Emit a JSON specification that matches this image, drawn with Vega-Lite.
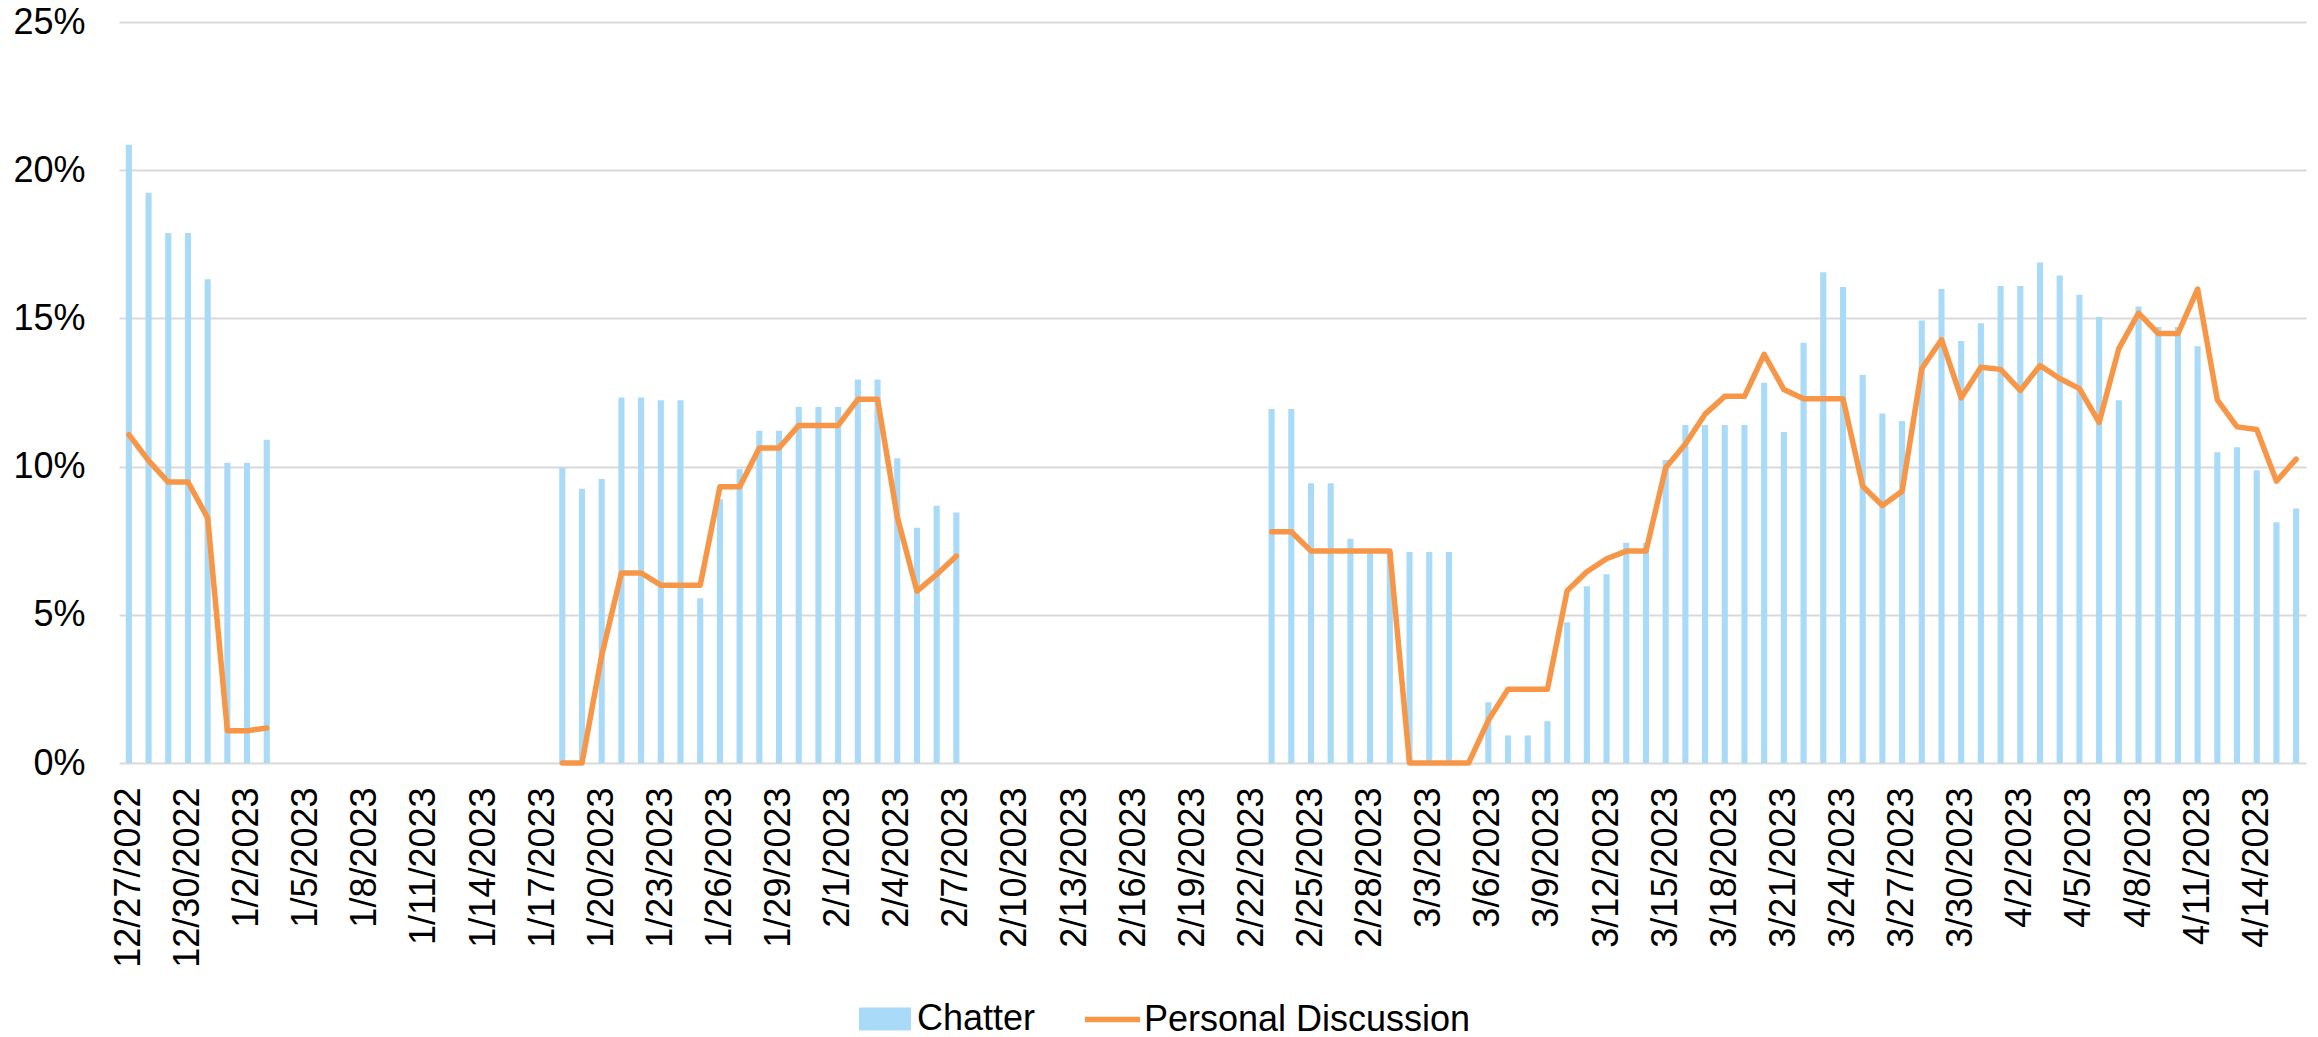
{
  "$schema": "https://vega.github.io/schema/vega-lite/v6.json",
  "autosize": "none",
  "width": 2187,
  "height": 741,
  "padding": {"left": 119, "top": 22, "right": 12, "bottom": 274},
  "background": "white",
  "config": {
    "font": "Liberation Sans",
    "view": {"stroke": null},
    "axis": {"labelFont": "Liberation Sans", "labelFontSize": 36, "labelColor": "#000000", "title": null, "domain": false, "ticks": false, "labelLimit": 0},
    "legend": {"labelFont": "Liberation Sans", "labelFontSize": 36, "labelColor": "#000000", "labelLimit": 0}
  },
  "data": {
    "values": [
      {"d": "12/27/2022", "c": 20.86, "p": 11.08},
      {"d": "12/28/2022", "c": 19.24, "p": 10.2},
      {"d": "12/29/2022", "c": 17.88, "p": 9.48},
      {"d": "12/30/2022", "c": 17.88, "p": 9.48},
      {"d": "12/31/2022", "c": 16.32, "p": 8.27},
      {"d": "1/1/2023", "c": 10.13, "p": 1.09},
      {"d": "1/2/2023", "c": 10.13, "p": 1.09},
      {"d": "1/3/2023", "c": 10.91, "p": 1.18},
      {"d": "1/4/2023", "c": null, "p": null},
      {"d": "1/5/2023", "c": null, "p": null},
      {"d": "1/6/2023", "c": null, "p": null},
      {"d": "1/7/2023", "c": null, "p": null},
      {"d": "1/8/2023", "c": null, "p": null},
      {"d": "1/9/2023", "c": null, "p": null},
      {"d": "1/10/2023", "c": null, "p": null},
      {"d": "1/11/2023", "c": null, "p": null},
      {"d": "1/12/2023", "c": null, "p": null},
      {"d": "1/13/2023", "c": null, "p": null},
      {"d": "1/14/2023", "c": null, "p": null},
      {"d": "1/15/2023", "c": null, "p": null},
      {"d": "1/16/2023", "c": null, "p": null},
      {"d": "1/17/2023", "c": null, "p": null},
      {"d": "1/18/2023", "c": 9.96, "p": 0},
      {"d": "1/19/2023", "c": 9.25, "p": 0},
      {"d": "1/20/2023", "c": 9.58, "p": 3.63},
      {"d": "1/21/2023", "c": 12.33, "p": 6.41},
      {"d": "1/22/2023", "c": 12.33, "p": 6.41},
      {"d": "1/23/2023", "c": 12.24, "p": 6.0},
      {"d": "1/24/2023", "c": 12.24, "p": 6.0},
      {"d": "1/25/2023", "c": 5.56, "p": 6.0},
      {"d": "1/26/2023", "c": 8.9, "p": 9.32},
      {"d": "1/27/2023", "c": 9.91, "p": 9.32},
      {"d": "1/28/2023", "c": 11.21, "p": 10.63},
      {"d": "1/29/2023", "c": 11.21, "p": 10.63},
      {"d": "1/30/2023", "c": 12.01, "p": 11.39},
      {"d": "1/31/2023", "c": 12.01, "p": 11.39},
      {"d": "2/1/2023", "c": 12.01, "p": 11.39},
      {"d": "2/2/2023", "c": 12.94, "p": 12.27},
      {"d": "2/3/2023", "c": 12.94, "p": 12.27},
      {"d": "2/4/2023", "c": 10.28, "p": 8.3},
      {"d": "2/5/2023", "c": 7.94, "p": 5.8},
      {"d": "2/6/2023", "c": 8.68, "p": 6.36},
      {"d": "2/7/2023", "c": 8.45, "p": 6.98},
      {"d": "2/8/2023", "c": null, "p": null},
      {"d": "2/9/2023", "c": null, "p": null},
      {"d": "2/10/2023", "c": null, "p": null},
      {"d": "2/11/2023", "c": null, "p": null},
      {"d": "2/12/2023", "c": null, "p": null},
      {"d": "2/13/2023", "c": null, "p": null},
      {"d": "2/14/2023", "c": null, "p": null},
      {"d": "2/15/2023", "c": null, "p": null},
      {"d": "2/16/2023", "c": null, "p": null},
      {"d": "2/17/2023", "c": null, "p": null},
      {"d": "2/18/2023", "c": null, "p": null},
      {"d": "2/19/2023", "c": null, "p": null},
      {"d": "2/20/2023", "c": null, "p": null},
      {"d": "2/21/2023", "c": null, "p": null},
      {"d": "2/22/2023", "c": null, "p": null},
      {"d": "2/23/2023", "c": 11.94, "p": 7.8},
      {"d": "2/24/2023", "c": 11.94, "p": 7.8},
      {"d": "2/25/2023", "c": 9.44, "p": 7.15},
      {"d": "2/26/2023", "c": 9.44, "p": 7.15},
      {"d": "2/27/2023", "c": 7.57, "p": 7.15},
      {"d": "2/28/2023", "c": 7.12, "p": 7.15},
      {"d": "3/1/2023", "c": 7.12, "p": 7.15},
      {"d": "3/2/2023", "c": 7.12, "p": 0},
      {"d": "3/3/2023", "c": 7.12, "p": 0},
      {"d": "3/4/2023", "c": 7.12, "p": 0},
      {"d": "3/5/2023", "c": 0, "p": 0},
      {"d": "3/6/2023", "c": 2.05, "p": 1.44},
      {"d": "3/7/2023", "c": 0.93, "p": 2.49},
      {"d": "3/8/2023", "c": 0.93, "p": 2.49},
      {"d": "3/9/2023", "c": 1.41, "p": 2.49},
      {"d": "3/10/2023", "c": 4.75, "p": 5.81},
      {"d": "3/11/2023", "c": 5.96, "p": 6.45},
      {"d": "3/12/2023", "c": 6.37, "p": 6.89},
      {"d": "3/13/2023", "c": 7.43, "p": 7.15},
      {"d": "3/14/2023", "c": 7.43, "p": 7.15},
      {"d": "3/15/2023", "c": 10.22, "p": 9.96},
      {"d": "3/16/2023", "c": 11.4, "p": 10.76},
      {"d": "3/17/2023", "c": 11.4, "p": 11.77},
      {"d": "3/18/2023", "c": 11.4, "p": 12.37},
      {"d": "3/19/2023", "c": 11.4, "p": 12.37},
      {"d": "3/20/2023", "c": 12.83, "p": 13.79},
      {"d": "3/21/2023", "c": 11.17, "p": 12.6},
      {"d": "3/22/2023", "c": 14.18, "p": 12.29},
      {"d": "3/23/2023", "c": 16.56, "p": 12.29},
      {"d": "3/24/2023", "c": 16.06, "p": 12.29},
      {"d": "3/25/2023", "c": 13.09, "p": 9.34},
      {"d": "3/26/2023", "c": 11.79, "p": 8.69},
      {"d": "3/27/2023", "c": 11.54, "p": 9.17},
      {"d": "3/28/2023", "c": 14.93, "p": 13.31},
      {"d": "3/29/2023", "c": 15.99, "p": 14.28},
      {"d": "3/30/2023", "c": 14.24, "p": 12.32},
      {"d": "3/31/2023", "c": 14.84, "p": 13.35},
      {"d": "4/1/2023", "c": 16.09, "p": 13.28},
      {"d": "4/2/2023", "c": 16.09, "p": 12.57},
      {"d": "4/3/2023", "c": 16.89, "p": 13.41},
      {"d": "4/4/2023", "c": 16.45, "p": 12.97},
      {"d": "4/5/2023", "c": 15.8, "p": 12.63},
      {"d": "4/6/2023", "c": 15.05, "p": 11.49},
      {"d": "4/7/2023", "c": 12.24, "p": 13.98},
      {"d": "4/8/2023", "c": 15.4, "p": 15.18},
      {"d": "4/9/2023", "c": 14.71, "p": 14.49},
      {"d": "4/10/2023", "c": 14.71, "p": 14.49},
      {"d": "4/11/2023", "c": 14.06, "p": 15.99},
      {"d": "4/12/2023", "c": 10.48, "p": 12.25},
      {"d": "4/13/2023", "c": 10.65, "p": 11.34},
      {"d": "4/14/2023", "c": 9.88, "p": 11.25},
      {"d": "4/15/2023", "c": 8.12, "p": 9.51},
      {"d": "4/16/2023", "c": 8.59, "p": 10.25}
    ]
  },
  "encoding": {
    "x": {
      "field": "d",
      "type": "ordinal",
      "sort": null,
      "scale": {
        "paddingInner": 0.69,
        "paddingOuter": 0.345,
        "domain": ["12/27/2022", "12/28/2022", "12/29/2022", "12/30/2022", "12/31/2022", "1/1/2023", "1/2/2023", "1/3/2023", "1/4/2023", "1/5/2023", "1/6/2023", "1/7/2023", "1/8/2023", "1/9/2023", "1/10/2023", "1/11/2023", "1/12/2023", "1/13/2023", "1/14/2023", "1/15/2023", "1/16/2023", "1/17/2023", "1/18/2023", "1/19/2023", "1/20/2023", "1/21/2023", "1/22/2023", "1/23/2023", "1/24/2023", "1/25/2023", "1/26/2023", "1/27/2023", "1/28/2023", "1/29/2023", "1/30/2023", "1/31/2023", "2/1/2023", "2/2/2023", "2/3/2023", "2/4/2023", "2/5/2023", "2/6/2023", "2/7/2023", "2/8/2023", "2/9/2023", "2/10/2023", "2/11/2023", "2/12/2023", "2/13/2023", "2/14/2023", "2/15/2023", "2/16/2023", "2/17/2023", "2/18/2023", "2/19/2023", "2/20/2023", "2/21/2023", "2/22/2023", "2/23/2023", "2/24/2023", "2/25/2023", "2/26/2023", "2/27/2023", "2/28/2023", "3/1/2023", "3/2/2023", "3/3/2023", "3/4/2023", "3/5/2023", "3/6/2023", "3/7/2023", "3/8/2023", "3/9/2023", "3/10/2023", "3/11/2023", "3/12/2023", "3/13/2023", "3/14/2023", "3/15/2023", "3/16/2023", "3/17/2023", "3/18/2023", "3/19/2023", "3/20/2023", "3/21/2023", "3/22/2023", "3/23/2023", "3/24/2023", "3/25/2023", "3/26/2023", "3/27/2023", "3/28/2023", "3/29/2023", "3/30/2023", "3/31/2023", "4/1/2023", "4/2/2023", "4/3/2023", "4/4/2023", "4/5/2023", "4/6/2023", "4/7/2023", "4/8/2023", "4/9/2023", "4/10/2023", "4/11/2023", "4/12/2023", "4/13/2023", "4/14/2023", "4/15/2023", "4/16/2023"]
      },
      "axis": {
        "labelAngle": 270,
        "labelPadding": 24,
        "labelOverlap": false,
        "labelBound": false,
        "grid": false,
        "values": ["12/27/2022", "12/30/2022", "1/2/2023", "1/5/2023", "1/8/2023", "1/11/2023", "1/14/2023", "1/17/2023", "1/20/2023", "1/23/2023", "1/26/2023", "1/29/2023", "2/1/2023", "2/4/2023", "2/7/2023", "2/10/2023", "2/13/2023", "2/16/2023", "2/19/2023", "2/22/2023", "2/25/2023", "2/28/2023", "3/3/2023", "3/6/2023", "3/9/2023", "3/12/2023", "3/15/2023", "3/18/2023", "3/21/2023", "3/24/2023", "3/27/2023", "3/30/2023", "4/2/2023", "4/5/2023", "4/8/2023", "4/11/2023", "4/14/2023"]
      }
    }
  },
  "layer": [
    {
      "mark": {"type": "bar"},
      "encoding": {
        "y": {
          "field": "c",
          "type": "quantitative",
          "scale": {"domain": [0, 25], "nice": false},
          "axis": {
            "values": [0, 5, 10, 15, 20, 25],
            "labelExpr": "datum.value + '%'",
            "labelPadding": 34,
            "grid": true,
            "gridColor": "#D9D9D9",
            "gridWidth": 2
          }
        },
        "fill": {
          "datum": "Chatter",
          "scale": {"domain": ["Chatter"], "range": ["#A9DAF8"]},
          "legend": {
            "orient": "none",
            "legendX": 740,
            "legendY": 971,
            "title": null,
            "symbolType": "M-1,-0.44H1V0.44H-1Z",
            "symbolSize": 2704,
            "symbolStrokeWidth": 0,
            "labelOffset": 6
          }
        }
      }
    },
    {
      "mark": {"type": "line", "strokeWidth": 5.5, "strokeCap": "round", "strokeJoin": "round", "invalid": "break-paths-show-domains"},
      "encoding": {
        "y": {"field": "p", "type": "quantitative"},
        "stroke": {
          "datum": "Personal Discussion",
          "scale": {"domain": ["Personal Discussion"], "range": ["#F79646"]},
          "legend": {
            "orient": "none",
            "legendX": 963,
            "legendY": 967,
            "title": null,
            "symbolType": "stroke",
            "symbolSize": 3025,
            "symbolStrokeWidth": 5.5,
            "labelOffset": 1
          }
        }
      }
    }
  ]
}
